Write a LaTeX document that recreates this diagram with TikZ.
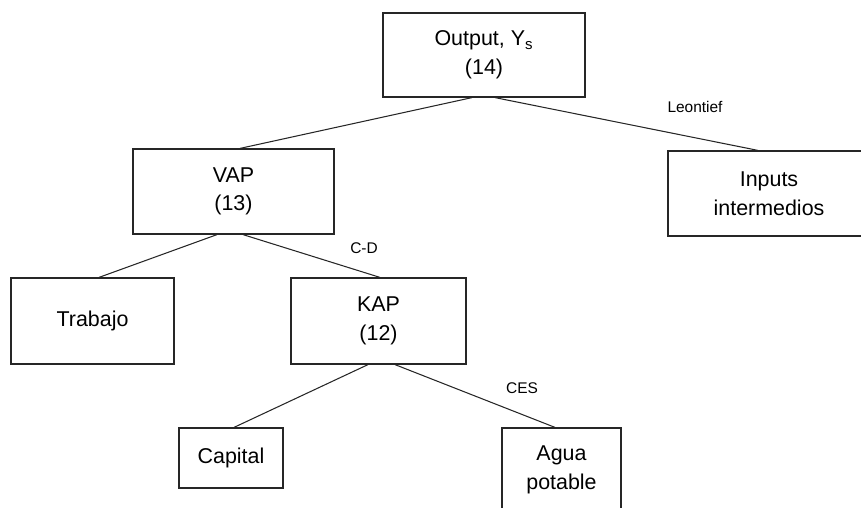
\documentclass[tikz,border=0pt]{standalone}
\usepackage{fontspec}
\setmainfont{Liberation Sans}

\begin{document}
\begin{tikzpicture}[
  x=0.02cm, y=-0.02cm,
  box/.style={rectangle, draw=black!85, line width=0.7pt, align=center, inner sep=0pt, font=\fontsize{12.2}{16.3}\selectfont},
  link/.style={draw=black!85, line width=0.6pt},
  tag/.style={font=\fontsize{8.8}{10}\selectfont}
]
  \clip (0,0) rectangle (861,507);

  % Niveles del arbol
  \node (output) [box, minimum width=4.04cm, minimum height=1.68cm] at (484,55) {Output, Y\textsubscript{s}\\(14)};
  \node (vap) [box, minimum width=4.02cm, minimum height=1.70cm] at (233.5,191.5) {VAP\\(13)};
  \node (inputs) [box, minimum width=4.04cm, minimum height=1.70cm] at (769,193.5) {Inputs\\intermedios};
  \node (trabajo) [box, minimum width=3.26cm, minimum height=1.72cm] at (92.5,321) {Trabajo};
  \node (kap) [box, minimum width=3.50cm, minimum height=1.72cm] at (378.5,321) {KAP\\(12)};
  \node (capital) [box, minimum width=2.08cm, minimum height=1.20cm] at (231,458) {Capital};
  \node (agua) [box, minimum width=2.38cm, minimum height=1.68cm] at (561.5,470) {Agua\\potable};

  % Funciones
  \node (leontief) [tag] at (695,107) {Leontief};
  \node (cd) [tag] at (364,248) {C-D};
  \node (ces) [tag] at (522,388) {CES};

  % Ramas
  \draw [link] ([xshift=-0.24cm]output.south) -- ([xshift=0.13cm]vap.north);
  \draw [link] ([xshift=0.22cm]output.south) -- ([xshift=-0.22cm]inputs.north);
  \draw [link] ([xshift=-0.33cm]vap.south) -- ([xshift=0.13cm]trabajo.north);
  \draw [link] ([xshift=0.19cm]vap.south) -- ([xshift=0.03cm]kap.north);
  \draw [link] ([xshift=-0.21cm]kap.south) -- ([xshift=0.06cm]capital.north);
  \draw [link] ([xshift=0.33cm]kap.south) -- ([xshift=-0.13cm]agua.north);

\end{tikzpicture}
\end{document}
